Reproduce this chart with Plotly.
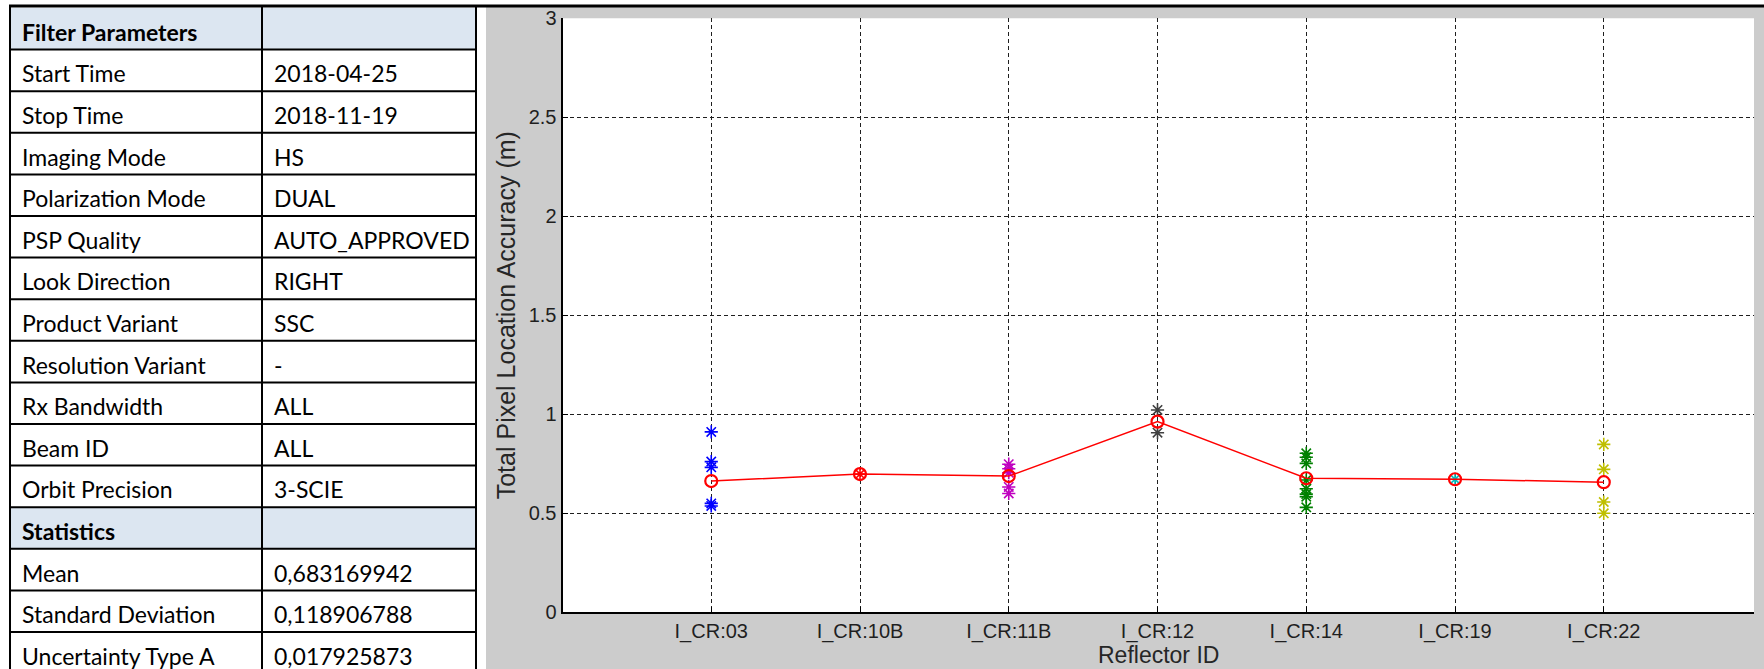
import plotly.graph_objects as go

# ---- reflector data -------------------------------------------------------
reflectors = ["I_CR:03", "I_CR:10B", "I_CR:11B", "I_CR:12", "I_CR:14", "I_CR:19", "I_CR:22"]
mean_accuracy = [0.663, 0.698, 0.688, 0.963, 0.677, 0.672, 0.657]

acc_cr03 = [0.911, 0.761, 0.732, 0.550, 0.537]
acc_cr10b = [0.698]
acc_cr11b = [0.748, 0.725, 0.705, 0.633, 0.600]
acc_cr12 = [1.022, 0.907]
acc_cr14 = [0.803, 0.783, 0.752, 0.668, 0.624, 0.597, 0.584, 0.530]
acc_cr19 = [0.672]
acc_cr22 = [0.848, 0.722, 0.557, 0.500]

point_sets = [acc_cr03, acc_cr10b, acc_cr11b, acc_cr12, acc_cr14, acc_cr19, acc_cr22]
point_colors = ["#0000ff", "#ff0000", "#bf00bf", "#404040", "#008000", "#00bfbf", "#bfbf00"]

y_ticks = [0, 0.5, 1, 1.5, 2, 2.5, 3]
y_tick_text = ["0", "0.5", "1", "1.5", "2", "2.5", "3"]

# ---- summary table --------------------------------------------------------
param_names = ["Filter Parameters", "Start Time", "Stop Time", "Imaging Mode",
               "Polarization Mode", "PSP Quality", "Look Direction", "Product Variant",
               "Resolution Variant", "Rx Bandwidth", "Beam ID", "Orbit Precision",
               "Statistics", "Mean", "Standard Deviation", "Uncertainty Type A"]
param_values = ["", "2018-04-25", "2018-11-19", "HS", "DUAL", "AUTO_APPROVED", "RIGHT",
                "SSC", "-", "ALL", "ALL", "3-SCIE", "", "0,683169942", "0,118906788",
                "0,017925873"]
header_rows = [0, 12]

W, H = 1764, 669


def px(x):
    return x / W


def py(y):
    return 1 - y / H


fig = go.Figure()

# individual measurements per reflector
for i, (pts, col) in enumerate(zip(point_sets, point_colors)):
    fig.add_trace(go.Scatter(
        x=[i + 1] * len(pts), y=pts, mode="markers",
        marker=dict(symbol="asterisk-open", size=11, color=col,
                    line=dict(color=col, width=1.6)),
        showlegend=False, hoverinfo="y"))

# mean accuracy per reflector
fig.add_trace(go.Scatter(
    x=list(range(1, len(reflectors) + 1)), y=mean_accuracy, mode="lines+markers",
    line=dict(color="#ff0000", width=1.5),
    marker=dict(symbol="circle-open", size=12, color="#ff0000",
                line=dict(color="#ff0000", width=2.2)),
    showlegend=False))

plot_l, plot_r = 562.5, 1754.0
plot_t, plot_b = 18.3, 612.3

shapes = []
annotations = []

# grey figure panel with the white axes box on top of it
shapes.append(dict(type="rect", xref="paper", yref="paper", x0=px(486), x1=px(1764),
                   y0=py(669), y1=py(7), fillcolor="#cccccc", line=dict(width=0),
                   layer="below"))
shapes.append(dict(type="rect", xref="paper", yref="paper", x0=px(plot_l), x1=px(plot_r),
                   y0=py(plot_b), y1=py(plot_t), fillcolor="#ffffff", line=dict(width=0),
                   layer="below"))

# table cells
row_top, row_h = 8.0, 41.6
col_x = [10, 262, 476]
table_font = dict(family="Lato", size=23, color="#000000")
for r in range(len(param_names)):
    y0 = row_top + r * row_h
    if r in header_rows:
        shapes.append(dict(type="rect", xref="paper", yref="paper",
                           x0=px(col_x[0]), x1=px(col_x[2]), y0=py(y0 + row_h), y1=py(y0),
                           fillcolor="#dce6f1", line=dict(width=0), layer="below"))
    cy = y0 + row_h / 2 + 3
    bold = r in header_rows
    annotations.append(dict(xref="paper", yref="paper", x=px(col_x[0] + 10), y=py(cy),
                            xanchor="left", yanchor="middle", showarrow=False,
                            text=("<b>%s</b>" % param_names[r]) if bold else param_names[r],
                            font=table_font))
    if param_values[r]:
        annotations.append(dict(xref="paper", yref="paper", x=px(col_x[1] + 10), y=py(cy),
                                xanchor="left", yanchor="middle", showarrow=False,
                                text=param_values[r], font=table_font))

n_rows = len(param_names)
for r in range(1, n_rows + 1):
    yl = row_top + r * row_h
    shapes.append(dict(type="line", xref="paper", yref="paper", x0=px(col_x[0]),
                       x1=px(col_x[2]), y0=py(yl), y1=py(yl),
                       line=dict(color="#000000", width=2)))
for xc in col_x:
    shapes.append(dict(type="line", xref="paper", yref="paper", x0=px(xc), x1=px(xc),
                       y0=py(row_top + n_rows * row_h), y1=py(6),
                       line=dict(color="#000000", width=2)))
# rule along the top edge
shapes.append(dict(type="line", xref="paper", yref="paper", x0=px(col_x[0] - 1), x1=1,
                   y0=py(6), y1=py(6), line=dict(color="#000000", width=3)))

# axis titles
annotations.append(dict(xref="paper", yref="paper", x=px((plot_l + plot_r) / 2), y=py(655),
                        xanchor="center", yanchor="middle", showarrow=False,
                        text="Reflector ID",
                        font=dict(family="Liberation Sans, Arial", size=23, color="#262626")))
annotations.append(dict(xref="paper", yref="paper", x=px(506), y=py((plot_t + plot_b) / 2),
                        xanchor="center", yanchor="middle", showarrow=False, textangle=-90,
                        text="Total Pixel Location Accuracy (m)",
                        font=dict(family="Liberation Sans, Arial", size=25, color="#262626")))

tick_font = dict(family="Liberation Sans, Arial", size=20, color="#1f1f1f")
grid_style = dict(showgrid=True, gridcolor="#1f1f1f", gridwidth=1, griddash="4px,3px")

fig.update_layout(
    width=W, height=H,
    margin=dict(l=0, r=0, t=0, b=0, autoexpand=False),
    paper_bgcolor="#ffffff",
    plot_bgcolor="#ffffff",
    shapes=shapes,
    annotations=annotations,
    xaxis=dict(domain=[px(plot_l), px(plot_r)], range=[0, 8.01], automargin=False,
               tickvals=list(range(1, len(reflectors) + 1)), ticktext=reflectors,
               tickfont=tick_font, ticks="inside", ticklen=5, tickcolor="#000000",
               showline=True, linecolor="#000000", linewidth=2, zeroline=False,
               mirror=False, **grid_style),
    yaxis=dict(domain=[py(plot_b), py(plot_t)], range=[0, 3], automargin=False,
               tickvals=y_ticks, ticktext=y_tick_text,
               tickfont=tick_font, ticks="inside", ticklen=5, tickcolor="#000000",
               showline=True, linecolor="#000000", linewidth=2, zeroline=False,
               mirror=False, **grid_style),
)

fig.write_html("out.html")
